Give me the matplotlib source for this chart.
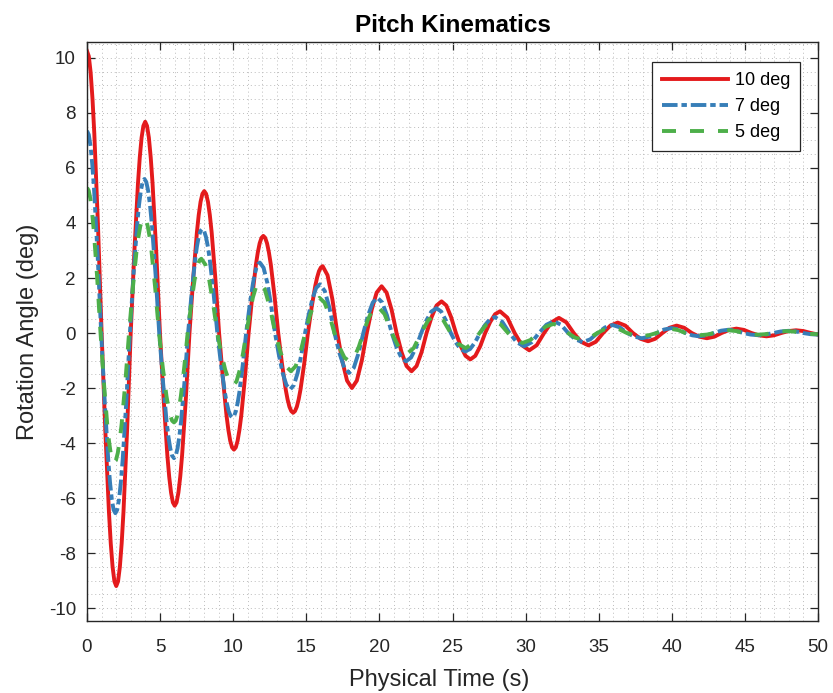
import matplotlib
matplotlib.use("Agg")
import matplotlib.pyplot as plt
from matplotlib.ticker import MultipleLocator

plt.rcParams['font.family'] = ['Liberation Sans', 'DejaVu Sans']
plt.rcParams['axes.unicode_minus'] = False

labels = ["10 deg", "7 deg", "5 deg"]
colors = ["#e41a1c", "#377eb8", "#4daf4a"]

# 10 deg series (time in s, angle in deg)
t_10 = [0.000, 0.125, 0.250, 0.375, 0.500, 0.750, 1.000, 1.250, 1.500, 1.625, 1.750, 1.875,
        2.000, 2.124, 2.248, 2.371, 2.495, 2.743, 2.990, 3.238, 3.485, 3.609, 3.733, 3.856,
        3.980, 4.106, 4.233, 4.359, 4.485, 4.738, 4.990, 5.243, 5.495, 5.621, 5.748, 5.874,
        6.000, 6.126, 6.253, 6.379, 6.505, 6.758, 7.010, 7.263, 7.515, 7.641, 7.768, 7.894,
        8.020, 8.147, 8.274, 8.401, 8.528, 8.781, 9.035, 9.289, 9.543, 9.669, 9.796, 9.923,
        10.050, 10.176, 10.301, 10.427, 10.553, 10.804, 11.055, 11.306, 11.558, 11.683, 11.809, 11.934,
        12.060, 12.188, 12.315, 12.443, 12.570, 12.825, 13.080, 13.335, 13.590, 13.718, 13.845, 13.973,
        14.100, 14.226, 14.353, 14.479, 14.605, 14.858, 15.110, 15.363, 15.615, 15.741, 15.868, 15.994,
        16.120, 16.453, 16.787, 17.120, 17.453, 17.787,
        18.120, 18.458, 18.797, 19.135, 19.473, 19.812,
        20.150, 20.492, 20.833, 21.175, 21.517, 21.858,
        22.200, 22.542, 22.883, 23.225, 23.567, 23.908,
        24.250, 24.578, 24.907, 25.235, 25.563, 25.892,
        26.220, 26.558, 26.897, 27.235, 27.573, 27.912,
        28.250, 28.750, 29.250, 29.750,
        30.250, 30.758, 31.265, 31.773,
        32.280, 32.785, 33.290, 33.795,
        34.300, 34.800, 35.300, 35.800,
        36.300, 36.820, 37.340, 37.860,
        38.380, 38.868, 39.355, 39.843,
        40.330, 40.848, 41.365, 41.883,
        42.400, 42.905, 43.410, 43.915,
        44.420, 44.935, 45.450, 45.965,
        46.480, 46.985, 47.490, 47.995,
        48.500, 49.005, 49.510, 50.000]
y_10 = [10.25, 10.06, 9.47, 8.52, 7.25, 3.93, 0.0, -3.52, -6.50, -7.65, -8.50, -9.03,
        -9.20, -9.03, -8.50, -7.65, -6.50, -3.52, 0.0, 2.94, 5.43, 6.38, 7.10, 7.53,
        7.68, 7.53, 7.10, 6.38, 5.43, 2.94, 0.0, -2.41, -4.44, -5.22, -5.80, -6.16,
        -6.28, -6.16, -5.80, -5.22, -4.44, -2.41, 0.0, 1.98, 3.65, 4.29, 4.77, 5.06,
        5.16, 5.06, 4.77, 4.29, 3.65, 1.98, 0.0, -1.62, -3.00, -3.52, -3.92, -4.16,
        -4.24, -4.16, -3.92, -3.52, -3.00, -1.62, 0.0, 1.35, 2.50, 2.93, 3.26, 3.46,
        3.53, 3.46, 3.26, 2.93, 2.50, 1.35, 0.0, -1.11, -2.05, -2.41, -2.68, -2.84,
        -2.90, -2.84, -2.68, -2.41, -2.05, -1.11, 0.0, 0.93, 1.72, 2.02, 2.25, 2.38,
        2.43, 2.10, 1.22, 0.0, -1.00, -1.73,
        -2.00, -1.73, -1.00, 0.0, 0.85, 1.47,
        1.70, 1.47, 0.85, 0.0, -0.70, -1.20,
        -1.39, -1.20, -0.70, 0.0, 0.575, 1.00,
        1.15, 1.00, 0.575, 0.0, -0.48, -0.83,
        -0.96, -0.83, -0.48, 0.0, 0.395, 0.684,
        0.79, 0.56, 0.0, -0.445,
        -0.63, -0.445, 0.0, 0.39,
        0.55, 0.39, 0.0, -0.32,
        -0.45, -0.32, 0.0, 0.27,
        0.38, 0.27, 0.0, -0.21,
        -0.30, -0.21, 0.0, 0.19,
        0.27, 0.19, 0.0, -0.134,
        -0.19, -0.134, 0.0, 0.113,
        0.16, 0.113, 0.0, -0.085,
        -0.12, -0.085, 0.0, 0.071,
        0.10, 0.071, 0.0, -0.055]

# 7 deg series
t_7 = [0.000, 0.121, 0.243, 0.364, 0.485, 0.728, 0.970, 1.213, 1.455, 1.576, 1.698, 1.819,
       1.940, 2.064, 2.189, 2.313, 2.438, 2.686, 2.935, 3.184, 3.433, 3.557, 3.681, 3.806,
       3.930, 4.056, 4.183, 4.309, 4.435, 4.688, 4.940, 5.193, 5.445, 5.571, 5.698, 5.824,
       5.950, 6.071, 6.191, 6.312, 6.433, 6.674, 6.915, 7.156, 7.398, 7.518, 7.639, 7.759,
       7.880, 8.009, 8.139, 8.268, 8.398, 8.656, 8.915, 9.174, 9.433, 9.562, 9.691, 9.821,
       9.950, 10.067, 10.184, 10.301, 10.418, 10.651, 10.885, 11.119, 11.353, 11.469, 11.586, 11.703,
       11.820, 12.080, 12.340, 12.600, 12.860, 13.120, 13.380, 13.640,
       13.900, 14.154, 14.408, 14.661, 14.915, 15.169, 15.423, 15.676,
       15.930, 16.263, 16.597, 16.930, 17.263, 17.597,
       17.930, 18.253, 18.577, 18.900, 19.223, 19.547,
       19.870, 20.195, 20.520, 20.845, 21.170, 21.495,
       21.820, 22.167, 22.513, 22.860, 23.207, 23.553,
       23.900, 24.228, 24.557, 24.885, 25.213, 25.542,
       25.870, 26.208, 26.547, 26.885, 27.223, 27.562,
       27.900, 28.400, 28.900, 29.400,
       29.900, 30.408, 30.915, 31.423,
       31.930, 32.423, 32.915, 33.408,
       33.900, 34.413, 34.925, 35.438,
       35.950, 36.450, 36.950, 37.450,
       37.950, 38.458, 38.965, 39.473,
       39.980, 40.455, 40.930, 41.405,
       41.880, 42.380, 42.880, 43.380,
       43.880, 44.385, 44.890, 45.395,
       45.900, 46.420, 46.940, 47.460,
       47.980, 48.480, 48.980, 49.480, 50.000]
y_7 = [7.35, 7.21, 6.79, 6.11, 5.20, 2.82, 0.0, -2.51, -4.63, -5.44, -6.05, -6.43,
       -6.55, -6.43, -6.05, -5.44, -4.63, -2.51, 0.0, 2.14, 3.96, 4.65, 5.17, 5.49,
       5.60, 5.49, 5.17, 4.65, 3.96, 2.14, 0.0, -1.74, -3.22, -3.78, -4.20, -4.46,
       -4.55, -4.46, -4.20, -3.78, -3.22, -1.74, 0.0, 1.45, 2.67, 3.14, 3.49, 3.71,
       3.78, 3.71, 3.49, 3.14, 2.67, 1.45, 0.0, -1.18, -2.17, -2.55, -2.84, -3.01,
       -3.07, -3.01, -2.84, -2.55, -2.17, -1.18, 0.0, 0.98, 1.81, 2.13, 2.37, 2.51,
       2.56, 2.37, 1.81, 0.98, 0.0, -0.785, -1.45, -1.89,
       -2.05, -1.89, -1.45, -0.785, 0.0, 0.68, 1.25, 1.64,
       1.77, 1.53, 0.885, 0.0, -0.725, -1.26,
       -1.45, -1.26, -0.725, 0.0, 0.64, 1.11,
       1.28, 1.11, 0.64, 0.0, -0.515, -0.89,
       -1.03, -0.89, -0.515, 0.0, 0.45, 0.78,
       0.90, 0.78, 0.45, 0.0, -0.335, -0.58,
       -0.67, -0.58, -0.335, 0.0, 0.29, 0.50,
       0.58, 0.41, 0.0, -0.34,
       -0.48, -0.34, 0.0, 0.30,
       0.43, 0.30, 0.0, -0.233,
       -0.33, -0.233, 0.0, 0.205,
       0.29, 0.205, 0.0, -0.134,
       -0.19, -0.134, 0.0, 0.127,
       0.18, 0.127, 0.0, -0.085,
       -0.12, -0.085, 0.0, 0.085,
       0.12, 0.085, 0.0, -0.057,
       -0.08, -0.057, 0.0, 0.057,
       0.08, 0.057, 0.0, -0.042, -0.06]

# 5 deg series
t_5 = [0.000, 0.116, 0.231, 0.347, 0.463, 0.694, 0.925, 1.156, 1.388, 1.503, 1.619, 1.734,
       1.850, 1.978, 2.106, 2.234, 2.363, 2.619, 2.875, 3.131, 3.388, 3.516, 3.644, 3.772,
       3.900, 4.028, 4.156, 4.284, 4.413, 4.669, 4.925, 5.181, 5.438, 5.566, 5.694, 5.822,
       5.950, 6.067, 6.184, 6.301, 6.418, 6.651, 6.885, 7.119, 7.353, 7.469, 7.586, 7.703,
       7.820, 8.093, 8.365, 8.638, 8.910, 9.183, 9.455, 9.728,
       10.000, 10.225, 10.450, 10.675, 10.900, 11.125, 11.350, 11.575,
       11.800, 12.158, 12.517, 12.875, 13.233, 13.592,
       13.950, 14.275, 14.600, 14.925, 15.250, 15.575,
       15.900, 16.242, 16.583, 16.925, 17.267, 17.608,
       17.950, 18.267, 18.583, 18.900, 19.217, 19.533,
       19.850, 20.350, 20.850, 21.350,
       21.850, 22.350, 22.850, 23.350,
       23.850, 24.363, 24.875, 25.388,
       25.900, 26.375, 26.850, 27.325,
       27.800, 28.300, 28.800, 29.300,
       29.800, 30.325, 30.850, 31.375,
       31.900, 32.400, 32.900, 33.400,
       33.900, 34.400, 34.900, 35.400,
       35.900, 36.413, 36.925, 37.438,
       37.950, 38.450, 38.950, 39.450,
       39.950, 40.438, 40.925, 41.413,
       41.900, 42.400, 42.900, 43.400,
       43.900, 44.400, 44.900, 45.400,
       45.900, 46.400, 46.900, 47.400,
       47.900, 48.400, 48.900, 49.400, 50.000]
y_5 = [5.28, 5.18, 4.88, 4.39, 3.73, 2.02, 0.0, -1.81, -3.34, -3.92, -4.36, -4.63,
       -4.72, -4.63, -4.36, -3.92, -3.34, -1.81, 0.0, 1.61, 2.97, 3.49, 3.88, 4.12,
       4.20, 4.12, 3.88, 3.49, 2.97, 1.61, 0.0, -1.24, -2.30, -2.70, -3.00, -3.19,
       -3.25, -3.19, -3.00, -2.70, -2.30, -1.24, 0.0, 1.03, 1.91, 2.24, 2.49, 2.65,
       2.70, 2.49, 1.91, 1.03, 0.0, -0.73, -1.34, -1.76,
       -1.90, -1.76, -1.34, -0.73, 0.0, 0.705, 1.30, 1.70,
       1.84, 1.59, 0.92, 0.0, -0.695, -1.20,
       -1.39, -1.20, -0.695, 0.0, 0.64, 1.11,
       1.28, 1.11, 0.64, 0.0, -0.515, -0.89,
       -1.03, -0.89, -0.515, 0.0, 0.49, 0.85,
       0.98, 0.69, 0.0, -0.545,
       -0.77, -0.545, 0.0, 0.47,
       0.67, 0.47, 0.0, -0.39,
       -0.55, -0.39, 0.0, 0.31,
       0.44, 0.31, 0.0, -0.255,
       -0.36, -0.255, 0.0, 0.233,
       0.33, 0.233, 0.0, -0.17,
       -0.24, -0.17, 0.0, 0.134,
       0.19, 0.134, 0.0, -0.078,
       -0.11, -0.078, 0.0, 0.106,
       0.15, 0.106, 0.0, -0.057,
       -0.08, -0.057, 0.0, 0.071,
       0.10, 0.071, 0.0, -0.042,
       -0.06, -0.042, 0.0, 0.05,
       0.07, 0.05, 0.0, -0.035, -0.045]

x_ticks = [0, 5, 10, 15, 20, 25, 30, 35, 40, 45, 50]
y_ticks = [-10, -8, -6, -4, -2, 0, 2, 4, 6, 8, 10]

fig = plt.figure(figsize=(8.33, 6.93), dpi=100)
ax = fig.add_axes([87/833, 72/693, 731/833, 579/693])

lw = 2.8
ax.plot(t_10, y_10, color=colors[0], lw=lw, linestyle='-', label=labels[0])
ax.plot(t_7, y_7, color=colors[1], lw=lw, linestyle=(0, (4.0, 1.0, 1.4, 1.0)), label=labels[1])
ax.plot(t_5, y_5, color=colors[2], lw=lw, linestyle=(0, (3.6, 3.6)), label=labels[2])

ax.set_xlim(0, 50)
ax.set_ylim(-10.47, 10.58)
ax.set_xticks(x_ticks)
ax.set_yticks(y_ticks)
ax.xaxis.set_minor_locator(MultipleLocator(1))
ax.yaxis.set_minor_locator(MultipleLocator(0.5))
ax.grid(which='both', color='#bcbcbc', linestyle=(0, (1, 3)), linewidth=0.7)
ax.set_axisbelow(True)

ax.tick_params(which='major', direction='in', length=6, width=0.9, colors='#262626',
               labelsize=13.5, top=True, right=True)
ax.tick_params(axis='x', which='major', pad=13)
ax.tick_params(axis='y', which='major', pad=8)
ax.tick_params(which='minor', length=0, top=True, right=True)
for s in ax.spines.values():
    s.set_color('#262626')
    s.set_linewidth(1.0)

ax.set_title("Pitch Kinematics", fontsize=17.5, fontweight='bold', pad=7)
ax.set_xlabel("Physical Time (s)", fontsize=17, color='#262626', labelpad=9)
ax.set_ylabel("Rotation Angle (deg)", fontsize=17, color='#262626', labelpad=7)
ax.xaxis.label.set_x(0.4815)

leg = ax.legend(loc='upper right', bbox_to_anchor=(0.9754, 0.9655), borderaxespad=0,
                fontsize=13, handlelength=3.7, labelspacing=0.5, fancybox=False,
                framealpha=1, edgecolor='#262626', borderpad=0.55, handletextpad=0.35)
leg.get_frame().set_linewidth(0.9)

fig.savefig("out.png", dpi=100)
